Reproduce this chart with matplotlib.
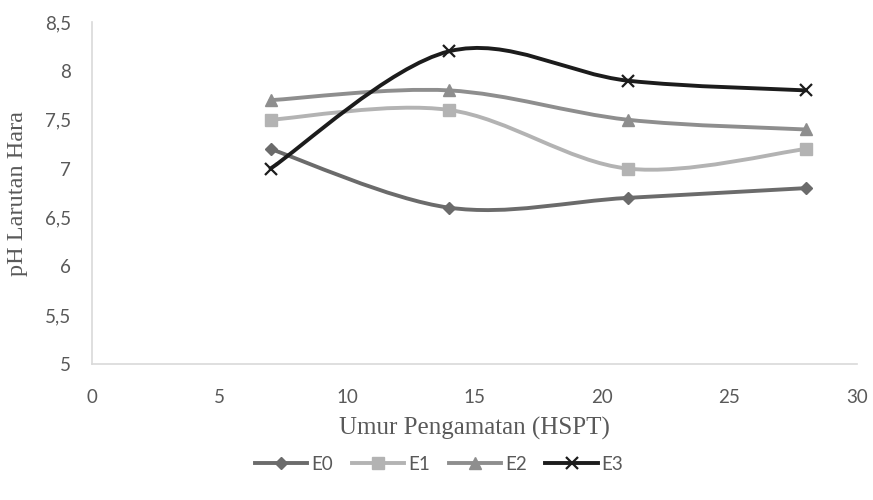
import numpy as np
import matplotlib
matplotlib.use("Agg")
import matplotlib.pyplot as plt
from matplotlib.path import Path
from matplotlib.patches import PathPatch
from matplotlib.lines import Line2D

# --- Data ---
days = [7, 14, 21, 28]
E0 = [7.2, 6.6, 6.7, 6.8]
E1 = [7.5, 7.6, 7.0, 7.2]
E2 = [7.7, 7.8, 7.5, 7.4]
E3 = [7.0, 8.2, 7.9, 7.8]
series_names = ["E0", "E1", "E2", "E3"]
series_vals = [E0, E1, E2, E3]
colors = ["#6b6b6b", "#b3b3b3", "#8e8e8e", "#1c1c1c"]
markers = ["D", "s", "^", "x"]
msizes = [6, 9, 8, 9]


def smooth_path(x, y, t=1 / 6):
    # Excel-style smoothed line: Catmull-Rom converted to cubic Bezier
    x = np.asarray(x, float)
    y = np.asarray(y, float)
    n = len(x)
    verts = [(x[0], y[0])]
    codes = [Path.MOVETO]
    for i in range(n - 1):
        p0 = i - 1 if i > 0 else i
        p3 = i + 2 if i + 2 < n else i + 1
        c1 = (x[i] + (x[i + 1] - x[p0]) * t, y[i] + (y[i + 1] - y[p0]) * t)
        c2 = (x[i + 1] - (x[p3] - x[i]) * t, y[i + 1] - (y[p3] - y[i]) * t)
        verts += [c1, c2, (x[i + 1], y[i + 1])]
        codes += [Path.CURVE4] * 3
    return Path(verts, codes)


fig = plt.figure(figsize=(8.73, 5), dpi=100)
ax = fig.add_axes([0.1054, 0.272, 0.8763, 0.684])

tick_font = "Lato"
label_font = "Liberation Serif"

for name, vals, c, m, ms in zip(series_names, series_vals, colors, markers, msizes):
    patch = PathPatch(smooth_path(days, vals), facecolor="none", edgecolor=c,
                      lw=2.8, capstyle="round", joinstyle="round", zorder=2)
    ax.add_patch(patch)
    if m == "x":
        ax.plot(days, vals, ls="none", marker=m, ms=ms, mew=1.6, color=c, zorder=3)
    else:
        ax.plot(days, vals, ls="none", marker=m, ms=ms, color=c, mec=c, zorder=3)

ax.set_xlim(0, 30)
ax.set_ylim(5, 8.5)
ax.set_xticks([0, 5, 10, 15, 20, 25, 30])
ax.set_yticks([5, 5.5, 6, 6.5, 7, 7.5, 8, 8.5])
ax.set_yticklabels(["5", "5,5", "6", "6,5", "7", "7,5", "8", "8,5"])

for side in ["top", "right"]:
    ax.spines[side].set_visible(False)
for side in ["left", "bottom"]:
    ax.spines[side].set_color("#d9d9d9")
    ax.spines[side].set_linewidth(1.2)
ax.tick_params(length=0, labelsize=13.5, labelcolor="#595959")
ax.tick_params(axis="x", pad=18)
ax.tick_params(axis="y", pad=15)
for lab in ax.get_xticklabels() + ax.get_yticklabels():
    lab.set_fontfamily(tick_font)

ax.set_xlabel("Umur Pengamatan (HSPT)", fontsize=18, family=label_font,
              color="#595959", labelpad=8)
ax.set_ylabel("pH Larutan Hara", fontsize=17.5, family=label_font,
              color="#595959", labelpad=12)

handles = []
for name, c, m, ms in zip(series_names, colors, markers, msizes):
    handles.append(Line2D([0], [0], color=c, lw=2.8, marker=m, ms=ms,
                          mew=1.6 if m == "x" else 1, mec=c, label=name))
fig.legend(handles=handles, loc="center", bbox_to_anchor=(0.503, 0.072),
           ncol=4, frameon=False, handlelength=2.8, columnspacing=1.0,
           handletextpad=0.2, prop={"family": tick_font, "size": 13.5},
           labelcolor="#595959")

fig.savefig("out.png", dpi=100, facecolor="white")
